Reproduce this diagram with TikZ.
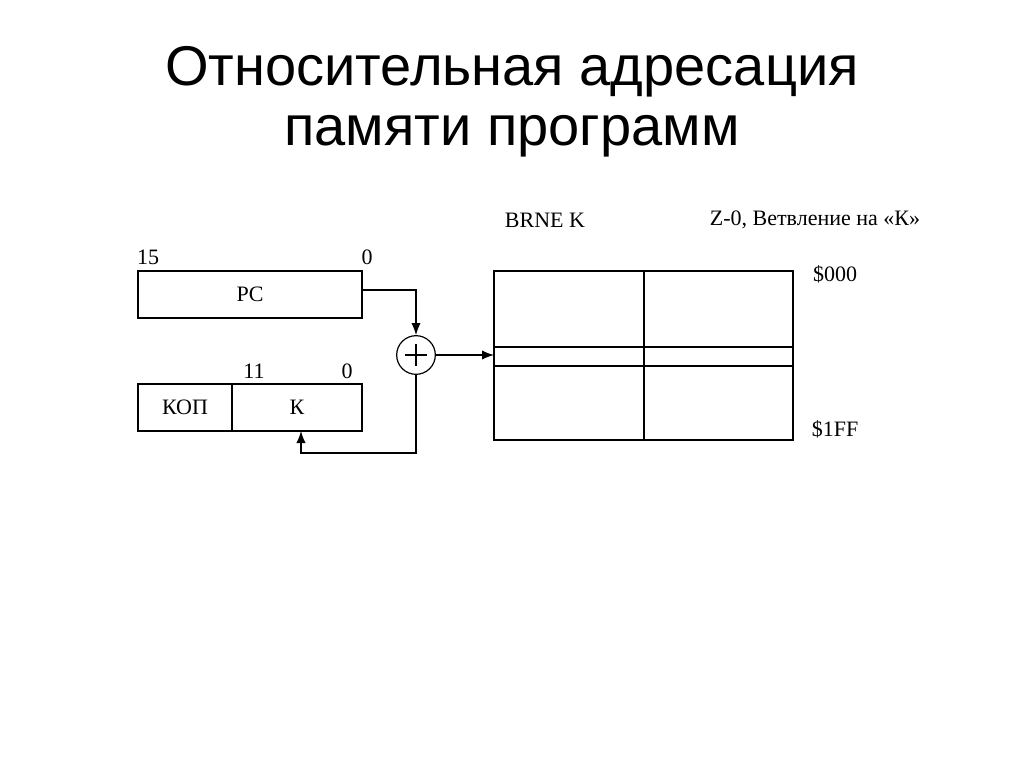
\documentclass[tikz,border=0pt]{standalone}
\usepackage{fontspec}
\setmainfont{Liberation Serif}
\newfontfamily\titlefont{Liberation Sans}
\usetikzlibrary{arrows.meta}
\begin{document}
\begin{tikzpicture}[x=0.75pt,y=-0.75pt,
  lbl/.style={inner sep=0pt,font=\fontsize{16.5}{19}\selectfont},
  reg/.style={draw,line width=0.9pt,minimum height=35.25pt,inner sep=0pt,font=\fontsize{16.5}{19}\selectfont},
  conn/.style={line width=0.9pt},
  arr/.style={conn,-{Latex[length=9pt,width=7pt]}}]
\useasboundingbox (0,0) rectangle (1024,767);
\node[font=\titlefont\fontsize{42}{45}\selectfont,align=center] (title) at (512,102) {Относительная адресация\\памяти программ};
% PC register
\node[reg,minimum width=168pt] (pc) at (250,294.5) {PC};
\node[lbl] (n15) at (148,257) {15};
\node[lbl] (n0a) at (367,257) {0};
% instruction register
\node[reg,minimum width=70.5pt] (kop) at (185,407.5) {КОП};
\node[reg,minimum width=97.5pt] (k) at (297,407.5) {К};
\node[lbl] (n11) at (254,371) {11};
\node[lbl] (n0b) at (347,371) {0};
% adder
\node[draw,circle,line width=0.9pt,minimum size=29pt,inner sep=0pt] (add) at (416,355) {};
\draw[line width=0.9pt] (add.center) ++(-11,0) -- ++(22,0) (add.center) ++(0,-11) -- ++(0,22);
% memory
\draw[line width=0.9pt] (494,271) rectangle (793,440);
\draw[line width=0.9pt] (644,271) -- (644,440) (494,347) -- (793,347) (494,366) -- (793,366);
\coordinate (mem) at (494,355);
\coordinate (kin) at (301,431);
% connectors
\draw[arr] (pc.east |- 0,290) -- (416,290) -- (add.north);
\draw[arr] (add.east) -- (mem);
\draw[arr] (add.south) -- (416,453) -- (301,453) -- (kin);
% labels
\node[lbl] (brne) at (545,220) {BRNE K};
\node[lbl] (z0) at (815,220) {Z-0, Ветвление на «К»};
\node[lbl] (a0) at (835,274) {\$000};
\node[lbl] (a1) at (835,429) {\$1FF};
\end{tikzpicture}
\end{document}
